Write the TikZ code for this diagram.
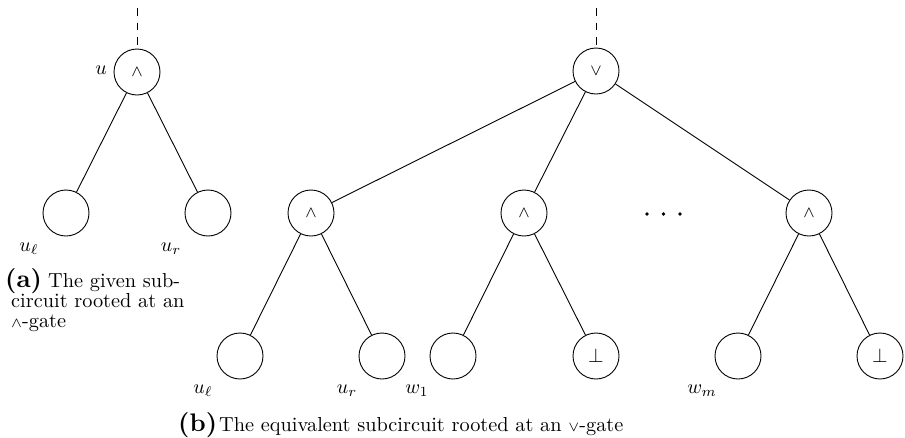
\documentclass[tikz,border=0pt]{standalone}
\usepackage{graphicx}
\usepackage{fontspec}
\setmainfont{lmroman10-regular.otf}[BoldFont=lmroman10-bold.otf, ItalicFont=lmroman10-italic.otf]
\newfontfamily\labfont{lmroman10-bold.otf}
\tikzset{
  gate/.style={circle, draw, minimum size=46pt, inner sep=0pt, line width=0.9pt},
  wire/.style={line width=0.9pt},
  topwire/.style={line width=0.9pt, dash pattern=on 7.5pt off 7pt},
  lab/.style={inner sep=0pt, anchor=base},
  captext/.style={inner sep=0pt, anchor=base west},
}
\newcommand{\dbl}[1]{\scalebox{2}{\fontsize{10}{10}\selectfont #1}}
\newcommand{\capsc}[1]{\scalebox{2.03}{\fontsize{10}{10}\selectfont #1}}
\newcommand{\gsym}[1]{\scalebox{2}{\fontsize{8}{8}\selectfont $#1$}}
\newcommand{\bsym}[1]{\scalebox{2}{\fontsize{10}{10}\selectfont $#1$}}
\newcommand{\sublab}[1]{{\labfont\fontsize{12.5}{12.5}\selectfont #1}}
\newcommand{\smallop}[1]{{\fontsize{7.5}{7.5}\selectfont$#1$}}
\begin{document}
\begin{tikzpicture}[x=1pt,y=-1pt]
\useasboundingbox (0,0) rectangle (905,437);
% (a) left tree
\node[gate] (u) at (137,72) {\gsym{\wedge}};
\node[gate] (ul) at (66,213) {};
\node[gate] (ur) at (208,213) {};
\coordinate (utop) at (137,8);
\draw[topwire] (utop) -- (u.north);
\draw[wire] (u) -- (ul);
\draw[wire] (u) -- (ur);
\node[lab] (lu) at (101,74) {\dbl{$u$}};
\node[lab] (lul) at (29,251) {\dbl{$u_\ell$}};
\node[lab] (lur) at (171,251) {\dbl{$u_r$}};
% (b) right tree
\node[gate] (v) at (596,71) {\gsym{\vee}};
\node[gate] (a1) at (311,213) {\gsym{\wedge}};
\node[gate] (a2) at (524,213) {\gsym{\wedge}};
\node[gate] (a3) at (809,213) {\gsym{\wedge}};
\coordinate (vtop) at (596,8);
\draw[topwire] (vtop) -- (v.north);
\draw[wire] (v) -- (a1);
\draw[wire] (v) -- (a2);
\draw[wire] (v) -- (a3);
\fill (647,214) circle (1.9);
\fill (663.5,214) circle (1.9);
\fill (680,214) circle (1.9);
\node[gate] (l1) at (240,356) {};
\node[gate] (l2) at (382,356) {};
\node[gate] (l3) at (453,356) {};
\node[gate] (l4) at (596,356) {\bsym{\bot}};
\node[gate] (l5) at (738,356) {};
\node[gate] (l6) at (880,356) {\bsym{\bot}};
\draw[wire] (a1) -- (l1);
\draw[wire] (a1) -- (l2);
\draw[wire] (a2) -- (l3);
\draw[wire] (a2) -- (l4);
\draw[wire] (a3) -- (l5);
\draw[wire] (a3) -- (l6);
\node[lab] (ll1) at (203,393) {\dbl{$u_\ell$}};
\node[lab] (ll2) at (347,393) {\dbl{$u_r$}};
\node[lab] (ll3) at (417,393) {\dbl{$w_1$}};
\node[lab] (ll5) at (702,393) {\dbl{$w_m$}};
% captions
\node[captext] (capa1) at (5,287) {\capsc{\sublab{(a)}\hspace{3pt}The given sub-}};
\node[captext] (capa2) at (11,307) {\capsc{circuit rooted at an}};
\node[captext] (capa3) at (11,327) {\capsc{\smallop{\wedge}-gate}};
\node[captext] (capb) at (178,431) {\capsc{\sublab{(b)}\hspace{1pt}The equivalent subcircuit rooted at an \smallop{\vee}-gate}};
\end{tikzpicture}
\end{document}
